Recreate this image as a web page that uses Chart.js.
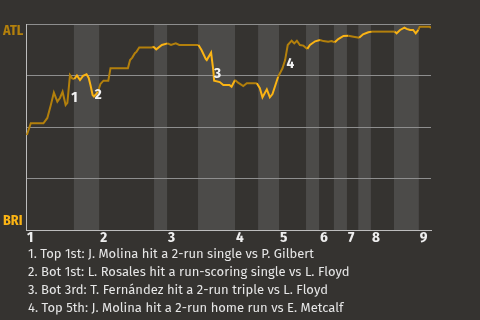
<!DOCTYPE html>
<html><head><meta charset="utf-8">
<script src="https://cdn.jsdelivr.net/npm/chart.js@4/dist/chart.umd.min.js"></script>
<style>
html,body{margin:0;padding:0;background:#353330;width:480px;height:320px;overflow:hidden}
#wrap{position:relative;width:480px;height:320px}
canvas{position:absolute;left:0;top:0}
#notes{position:absolute;left:28px;top:245px;font:13px "Fira Sans","Roboto","Open Sans",sans-serif;color:#e6e6e6;line-height:18px;white-space:nowrap}
#notes div{height:18px}
</style></head><body>
<div id="wrap"><canvas id="c" width="480" height="320"></canvas>
<div id="notes"></div></div>
<script>
// play index (x) and ATL win probability in % (y)
const plays = [0.2,1.1,4.0,4.9,5.7,6.4,7.2,7.8,8.4,9.1,9.5,10.1,10.6,11.1,11.7,12.4,13.1,13.9,14.4,14.8,15.3,15.6,16.1,16.5,17.1,17.8,18.9,19.4,23.4,23.9,24.4,25.0,25.4,26.0,28.9,29.2,29.9,31.2,32.5,33.3,34.4,35.2,39.6,40.3,41.3,41.5,42.5,43.0,43.2,44.5,45.3,46.7,47.2,48.0,48.7,49.9,50.7,53.0,53.7,54.3,55.3,56.0,56.6,57.9,58.9,59.5,60.1,61.0,61.6,62.2,62.9,63.7,64.6,65.2,66.4,67.5,68.3,69.4,70.2,70.9,71.7,72.9,74.0,75.2,76.5,77.4,78.6,79.4,84.7,85.1,85.9,86.9,87.4,88.2,88.9,89.5,90.1,90.4,92.7,93.0];
const atlWinPct = [46.1,51.8,51.8,54.4,60.7,66.7,62.3,64.1,67.1,60.7,61.7,75.2,73.6,73.3,75.0,72.8,74.8,75.6,73.8,70.4,65.5,64.8,66.0,67.1,70.9,72.5,72.5,78.5,78.5,82.5,83.7,85.8,86.6,88.6,88.6,89.1,87.7,89.8,90.6,89.8,90.6,89.8,89.8,87.4,82.9,82.5,86.1,77.7,72.5,71.8,70.4,70.4,69.6,72.8,71.5,69.9,71.2,71.2,68.8,64.4,68.3,64.4,66.0,74.4,78.5,82.5,89.8,91.9,90.6,91.9,89.8,89.5,87.9,89.8,91.6,92.2,91.7,91.4,91.7,91.1,92.7,94.2,94.3,93.8,93.3,95.0,96.0,96.3,96.3,95.5,97.1,98.2,97.6,97.1,97.1,95.5,97.1,98.7,98.7,98.1];
// start of each half inning (top 1st, bottom 1st, top 2nd, ...)
const halfInningStarts = [0,11.0,16.8,29.4,32.4,39.5,48.0,53.3,58.1,64.3,67.3,70.7,73.7,76.3,79.2,84.5,90.2];
const gameEnd = 93;
const inningLabels = ['1','2','3','4','5','6','7','8','9'];
const teamTop = 'ATL', teamBottom = 'BRI';
const eventLabels = ['1','2','3','4'];
const eventPlays = [11.1,16.6,44.0,60.7];
const eventPct = [64.1,65.8,75.8,80.6];
const notes = [
 '1. Top 1st: J. Molina hit a 2-run single vs P. Gilbert',
 '2. Bot 1st: L. Rosales hit a run-scoring single vs L. Floyd',
 '3. Bot 3rd: T. Fernández hit a 2-run triple vs L. Floyd',
 '4. Top 5th: J. Molina hit a 2-run home run vs E. Metcalf'
];

const ATL_C = '#b3800c', BRI_C = '#fbb414', BAND = '#4c4b49';
const LBL_FONT = '"Fira Sans Condensed","Liberation Sans Narrow","Roboto",sans-serif';

document.getElementById('notes').innerHTML = notes.map(t=>'<div>'+t+'</div>').join('');

function isBottomHalf(v){
  let idx = 0;
  for (let i=0;i<halfInningStarts.length;i++) if (v >= halfInningStarts[i]) idx = i;
  return idx % 2 === 1;
}

const deco = {
  id:'deco',
  beforeDraw(chart){
    const {ctx, chartArea:a, scales:{x}} = chart;
    ctx.save(); ctx.fillStyle = BAND;
    for (let i=1;i<halfInningStarts.length;i+=2){
      const x0 = x.getPixelForValue(halfInningStarts[i]);
      const x1 = x.getPixelForValue(i+1<halfInningStarts.length?halfInningStarts[i+1]:gameEnd);
      ctx.fillRect(x0, a.top, x1-x0, a.bottom-a.top);
    }
    ctx.restore();
  },
  afterDraw(chart){
    const {ctx, chartArea:a, scales:{x,y}} = chart;
    ctx.save();
    ctx.textBaseline = 'middle';
    ctx.textAlign = 'left';
    ctx.font = 'bold 15px ' + LBL_FONT;
    ctx.fillStyle = '#eeeeee';
    inningLabels.forEach((t,i)=>{
      ctx.fillText(t, x.getPixelForValue(halfInningStarts[i*2]) + 1, a.bottom + 8);
    });
    ctx.font = 'bold 14px ' + LBL_FONT;
    ctx.fillStyle = ATL_C;
    ctx.fillText(teamTop, 3, y.getPixelForValue(100) + 7);
    ctx.fillStyle = BRI_C;
    ctx.fillText(teamBottom, 3, y.getPixelForValue(0) - 9);
    ctx.textAlign = 'center';
    ctx.font = 'bold 15px ' + LBL_FONT;
    ctx.fillStyle = '#f2f2f2';
    eventLabels.forEach((t,i)=>{
      ctx.fillText(t, x.getPixelForValue(eventPlays[i]), y.getPixelForValue(eventPct[i]));
    });
    ctx.restore();
  }
};

new Chart(document.getElementById('c'), {
  type:'line',
  data:{datasets:[{
    data: plays.map((p,i)=>({x:p,y:atlWinPct[i]})),
    borderWidth:2, pointRadius:0, tension:0, fill:false,
    borderColor: ATL_C,
    segment:{ borderColor: c => isBottomHalf((c.p0.parsed.x + c.p1.parsed.x)/2) ? BRI_C : ATL_C }
  }]},
  options:{
    responsive:false, devicePixelRatio:1, animation:false,
    layout:{padding:{left:26,right:49,top:24,bottom:90}},
    plugins:{legend:{display:false},tooltip:{enabled:false}},
    scales:{
      x:{type:'linear',min:0,max:gameEnd,
        ticks:{display:false}, grid:{display:false,drawTicks:false},
        border:{display:true,color:'#bdbdbd',width:1},
        afterFit(s){s.height=0;}},
      y:{min:0,max:100,
        ticks:{display:false,stepSize:25}, grid:{color:'#8e8e8e',drawTicks:false,lineWidth:1},
        border:{display:true,color:'#bdbdbd',width:1},
        afterFit(s){s.width=0;}}
    }
  },
  plugins:[deco]
});
</script>
</body></html>
